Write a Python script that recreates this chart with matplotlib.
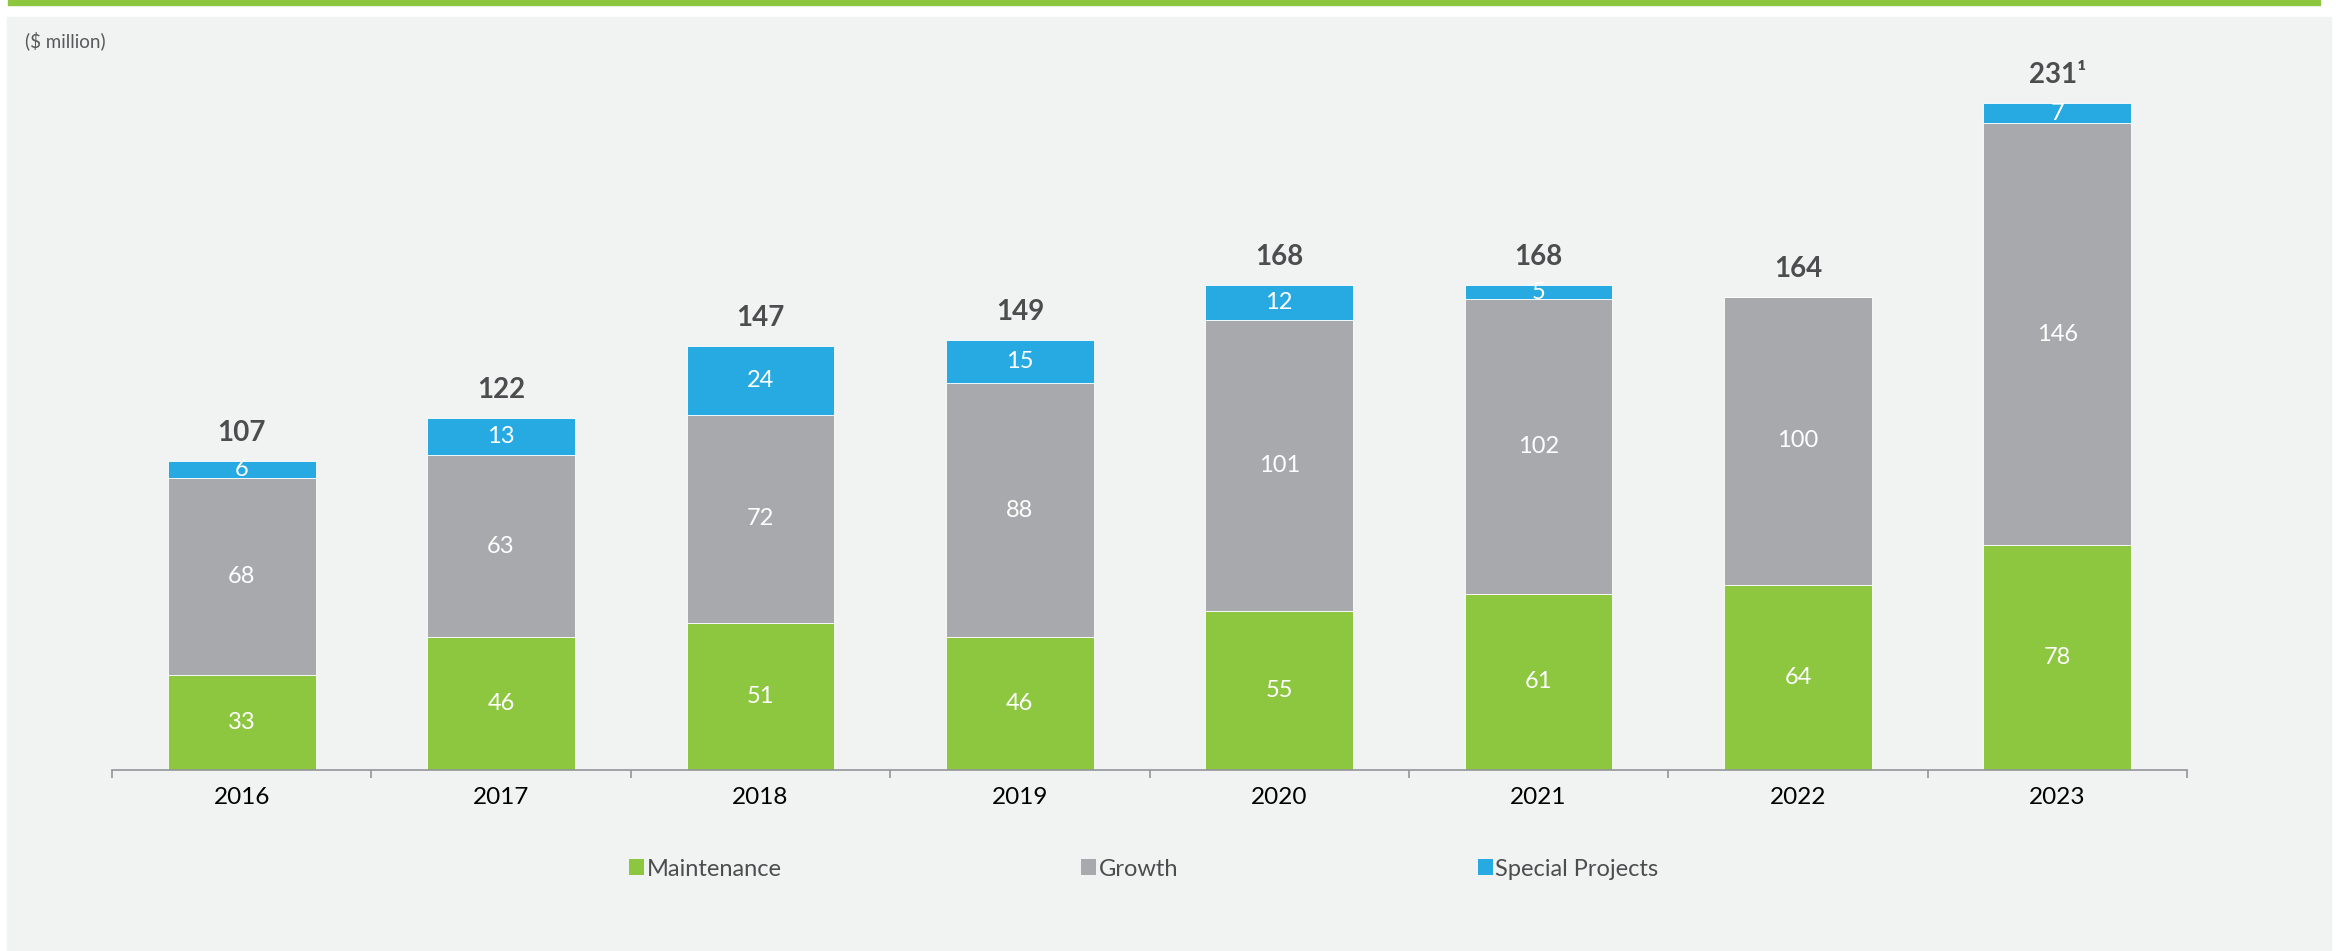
import numpy as np
import matplotlib
matplotlib.use("Agg")
import matplotlib.pyplot as plt
from matplotlib.patches import Rectangle, Patch

plt.rcParams['font.family'] = ['Lato', 'DejaVu Sans']

# Capital expenditure by category ($ million)
years = ["2016", "2017", "2018", "2019", "2020", "2021", "2022", "2023"]
maintenance = [33, 46, 51, 46, 55, 61, 64, 78]
growth = [68, 63, 72, 88, 101, 102, 100, 146]
special_projects = [6, 13, 24, 15, 12, 5, 0, 7]
total_labels = ["107", "122", "147", "149", "168", "168", "164", "231\u00b9"]

GREEN = "#8dc63f"
GRAY = "#a7a9ac"
BLUE = "#27aae1"
PANEL = "#f1f2f2"
DARK = "#4d4d4f"
AXIS = "#939598"

W, H = 2341, 951
fig = plt.figure(figsize=(W / 100, H / 100), dpi=100, facecolor="white")

# header rule and shaded panel behind the plot
fig.patches.append(Rectangle((8 / W, 1 - 5 / H), (2320 - 8) / W, 5 / H,
                             transform=fig.transFigure, color=GREEN, zorder=-10))
fig.patches.append(Rectangle((7 / W, 0), (2331 - 7) / W, 1 - 17 / H,
                             transform=fig.transFigure, color=PANEL, zorder=-10))

ax = fig.add_axes([112 / W, 181 / H, (2187 - 112) / W, 260 * 2.887 / H])
ax.set_facecolor("none")
ax.set_zorder(1)

x = np.arange(len(years))
width = 0.57
m = np.array(maintenance)
g = np.array(growth)
s = np.array(special_projects)

bars_m = ax.bar(x, m, width, color=GREEN, edgecolor="white", linewidth=0.6, label="Maintenance")
bars_g = ax.bar(x, g, width, bottom=m, color=GRAY, edgecolor="white", linewidth=0.6, label="Growth")
bars_s = ax.bar(x, s, width, bottom=m + g, color=BLUE, edgecolor="white", linewidth=0.6,
                label="Special Projects")

# segment values
for bars, vals, base in ((bars_m, m, np.zeros_like(m)), (bars_g, g, m), (bars_s, s, m + g)):
    for xi, v, b in zip(x, vals, base):
        if v > 0:
            ax.text(xi, b + v / 2, str(v), ha="center", va="center",
                    color="white", fontsize=17)

# totals above each stack
tops = m + g + s
for xi, t, lab in zip(x, tops, total_labels):
    ax.annotate(lab, (xi, t), xytext=(0, 20), textcoords="offset points",
                ha="center", va="center", fontsize=20, fontweight="bold", color=DARK)

ax.set_xlim(-0.5, len(years) - 0.5)
ax.set_ylim(0, 260)
for side in ("left", "right", "top"):
    ax.spines[side].set_visible(False)
ax.spines["bottom"].set_color(AXIS)
ax.spines["bottom"].set_linewidth(1.2)
ax.set_yticks([])
ax.set_xticks(x)
ax.set_xticklabels(years, fontsize=17.5, color="black")
ax.tick_params(axis="x", which="major", length=0, pad=12.5)
ax.set_xticks(np.arange(-0.5, len(years)), minor=True)
ax.tick_params(axis="x", which="minor", length=6, width=1.2, color=AXIS, direction="out")

fig.text(25 / W, 1 - 41 / H, "($ million)", fontsize=13.5, color="#58595b",
         ha="left", va="center")

# legend entries
entries = [("Maintenance", GREEN, 629), ("Growth", GRAY, 1081), ("Special Projects", BLUE, 1478)]
for name, col, px in entries:
    fig.legend(handles=[Patch(facecolor=col, edgecolor="none", label=name)],
               loc="center left", bbox_to_anchor=(px / W, 82 / H), frameon=False,
               fontsize=17, handlelength=0.64, handleheight=0.64, handletextpad=0.1,
               borderpad=0, borderaxespad=0, labelcolor=DARK)

fig.savefig("out.png", dpi=100, facecolor="white")
